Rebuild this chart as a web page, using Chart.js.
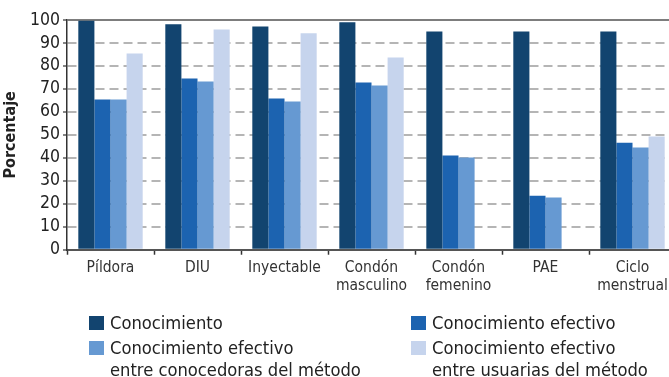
<!DOCTYPE html>
<html lang="es">
<head>
<meta charset="utf-8">
<script src="https://cdn.jsdelivr.net/npm/chart.js@4.4.1/dist/chart.umd.min.js"></script>
<style>
  html, body { margin: 0; padding: 0; background: #fff; }
  #wrap { position: relative; width: 669px; height: 377px; overflow: hidden; }
  #chart { position: absolute; left: 0; top: 0; }
  .legend { position: absolute; font-family: "DejaVu Sans Condensed", "DejaVu Sans", sans-serif;
            font-size: 18.2px; color: #222; line-height: 22px; }
  .legend .sw { position: absolute; width: 15px; height: 14px; }
  .legend .tx { position: absolute; white-space: nowrap; }
</style>
</head>
<body>
<div id="wrap">
  <canvas id="chart" width="680" height="377"></canvas>
  <div class="legend" id="legend"></div>
</div>
<script>
// Methods and knowledge percentages
const categories = ["Píldora", "DIU", "Inyectable", ["Condón", "masculino"], ["Condón", "femenino"], "PAE", ["Ciclo", "menstrual"]];
const conocimiento = [99.7, 98.1, 97.2, 99.0, 95.0, 95.0, 95.0];
const conocimientoEfectivo = [65.4, 74.5, 65.8, 72.8, 41.0, 23.5, 46.6];
const efectivoConocedoras = [65.4, 73.2, 64.5, 71.5, 40.1, 22.7, 44.5];
const efectivoUsuarias = [85.4, 95.9, 94.2, 83.7, null, null, 49.3];
const yTicks = [0, 10, 20, 30, 40, 50, 60, 70, 80, 90, 100];

const seriesNames = [
  ["Conocimiento"],
  ["Conocimiento efectivo"],
  ["Conocimiento efectivo", "entre conocedoras del método"],
  ["Conocimiento efectivo", "entre usuarias del método"]
];
const colors = ["#12446f", "#1c63b0", "#6699d2", "#c6d4ed"];
const seriesData = [conocimiento, conocimientoEfectivo, efectivoConocedoras, efectivoUsuarias];

const FONT = '"DejaVu Sans Condensed", "DejaVu Sans", sans-serif';

new Chart(document.getElementById("chart"), {
  type: "bar",
  data: {
    labels: categories,
    datasets: seriesData.map((d, i) => ({
      label: seriesNames[i].join(" "),
      data: d,
      backgroundColor: colors[i],
      borderWidth: 0,
      categoryPercentage: 0.74,
      barPercentage: 1.0
    }))
  },
  options: {
    responsive: false,
    animation: false,
    layout: { padding: { top: 20, right: 4, left: 0, bottom: 78 } },
    plugins: { legend: { display: false }, tooltip: { enabled: false } },
    scales: {
      x: {
        grid: {
          drawOnChartArea: false,
          drawTicks: true,
          tickLength: 5,
          tickColor: "#333",
          tickWidth: 1.5,
          offset: true
        },
        border: { display: true, color: "#555", width: 2 },
        ticks: {
          color: "#333",
          font: { family: FONT, size: 15.5, lineHeight: 1.17 },
          padding: 4,
          maxRotation: 0,
          autoSkip: false
        }
      },
      y: {
        min: 0,
        max: 100,
        afterBuildTicks: (scale) => { scale.ticks = yTicks.map(v => ({ value: v })); },
        afterFit: (scale) => { scale.width = 67; },
        grid: {
          color: (ctx) => ctx.tick && ctx.tick.value === 100 ? "#7d7d7d"
                         : (ctx.tick && ctx.tick.value === 0 ? "rgba(0,0,0,0)" : "#b5b5b5"),
          lineWidth: 2,
          drawTicks: true,
          tickLength: 4,
          tickColor: "#333",
          tickWidth: 1.2,
          tickBorderDash: []
        },
        border: {
          display: true,
          color: "#333",
          width: 1.5,
          dash: (ctx) => ctx.tick && ctx.tick.value === 100 ? [] : [9, 5]
        },
        ticks: {
          color: "#222",
          font: { family: FONT, size: 17.5 },
          padding: 3,
          autoSkip: false
        },
        title: {
          display: true,
          text: "Porcentaje",
          color: "#222",
          font: { family: FONT, size: 16, weight: "bold" },
          padding: { top: 1, bottom: 0 }
        }
      }
    }
  }
});

// Two-column legend under the chart
const legendPos = [
  { x: 89, y: 316 },
  { x: 411, y: 316 },
  { x: 89, y: 341 },
  { x: 411, y: 341 }
];
const legend = document.getElementById("legend");
seriesNames.forEach((lines, i) => {
  const sw = document.createElement("div");
  sw.className = "sw";
  sw.style.left = legendPos[i].x + "px";
  sw.style.top = legendPos[i].y + "px";
  sw.style.background = colors[i];
  legend.appendChild(sw);
  const tx = document.createElement("div");
  tx.className = "tx";
  tx.style.left = (legendPos[i].x + 21) + "px";
  tx.style.top = (legendPos[i].y - 4) + "px";
  tx.innerHTML = lines.join("<br>");
  legend.appendChild(tx);
});
</script>
</body>
</html>
